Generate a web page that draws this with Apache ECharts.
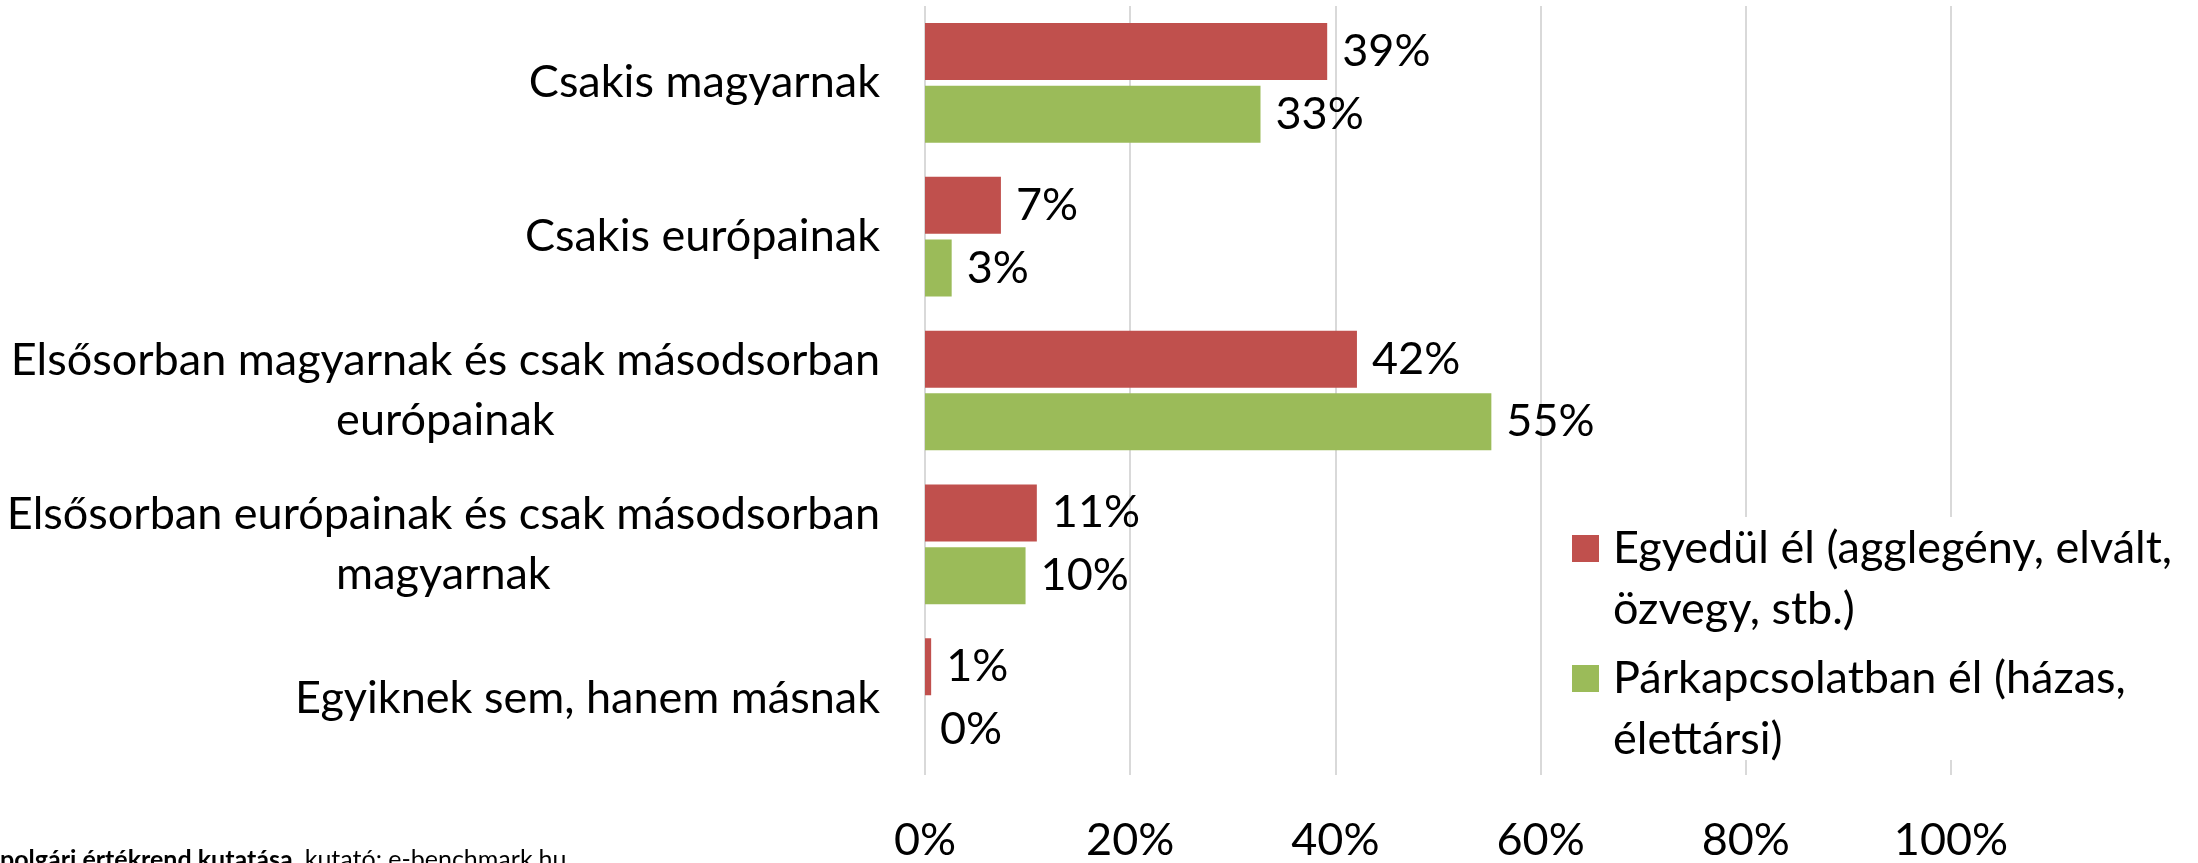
<!DOCTYPE html>
<html>
<head>
<meta charset="utf-8">
<script src="https://cdn.jsdelivr.net/npm/echarts@6/dist/echarts.min.js"></script>
<style>
  html, body { margin: 0; padding: 0; background: #fff; }
  #chart { width: 2198px; height: 863px; }
</style>
</head>
<body>
<div id="chart"></div>
<script>
// categories, top to bottom
const categories = [
  'Csakis magyarnak',
  'Csakis európainak',
  'Elsősorban magyarnak és csak másodsorban\neurópainak',
  'Elsősorban európainak és csak másodsorban\nmagyarnak',
  'Egyiknek sem, hanem másnak'
];
const seriesNames = [
  'Egyedül él (agglegény, elvált, özvegy, stb.)',
  'Párkapcsolatban él (házas, élettársi)'
];
// legend text broken into two lines like the original
const legendLines = [
  ['Egyedül él (agglegény, elvált,', 'özvegy, stb.)'],
  ['Párkapcsolatban él (házas,', 'élettársi)']
];
const single = [39.2, 7.4, 42.1, 10.9, 0.6];
const couple = [32.7, 2.6, 55.2, 9.8, 0];
const xTicks = [0, 20, 40, 60, 80, 100];

const colors = ['#C0504D', '#9BBB59'];
const FONT = 'Lato';
const FS = 45;
const LH = 60;

const chart = echarts.init(document.getElementById('chart'));

// an empty first line keeps the icon level with the first text line
function legendFor(i, top) {
  return {
    data: [seriesNames[i]],
    left: 1572,
    top: top,
    padding: 0,
    icon: 'rect',
    itemWidth: 27,
    itemHeight: 27,
    selectedMode: false,
    formatter: () => ' \n' + legendLines[i].map(s => '{t|' + s + '}').join('\n'),
    textStyle: {
      fontFamily: FONT,
      fontSize: FS,
      lineHeight: 61,
      color: '#000',
      rich: {
        t: { fontFamily: FONT, fontSize: FS, lineHeight: 61, color: '#000', padding: [0, 0, 0, 9] }
      }
    }
  };
}

chart.setOption({
  animation: false,
  grid: { left: 925, right: 247, top: 6, bottom: 79 },
  graphic: [
    {
      type: 'rect',
      z: 1,
      shape: { x: 1550, y: 517, width: 648, height: 243 },
      style: { fill: '#fff' }
    },
    {
      type: 'text',
      x: 0,
      y: 847,
      style: {
        text: '{b|polgári értékrend kutatása}, kutató: e-benchmark.hu',
        font: '25px Lato',
        fill: '#000',
        rich: { b: { fontWeight: 'bold', fontSize: 25, fontFamily: FONT } }
      }
    }
  ],
  legend: [legendFor(0, 457), legendFor(1, 587)],
  xAxis: {
    type: 'value',
    min: 0,
    max: 100,
    interval: 20,
    axisLine: { show: false },
    axisTick: { show: false },
    splitLine: { lineStyle: { color: '#D9D9D9', width: 2 } },
    axisLabel: {
      margin: 43,
      fontFamily: FONT,
      fontSize: FS,
      color: '#000',
      formatter: v => xTicks.includes(v) ? v + '%' : ''
    }
  },
  yAxis: {
    type: 'category',
    inverse: true,
    data: categories,
    axisLine: { show: false },
    axisTick: { show: false },
    axisLabel: {
      margin: 45,
      fontFamily: FONT,
      fontSize: FS,
      lineHeight: LH,
      color: '#000',
      formatter: v => v.split('\n').map(s => '{c|' + s + '}').join('\n'),
      rich: {
        c: { align: 'center', fontFamily: FONT, fontSize: FS, lineHeight: LH, color: '#000' }
      }
    }
  },
  series: [single, couple].map((d, i) => ({
    name: seriesNames[i],
    type: 'bar',
    data: d,
    barWidth: 57,
    barGap: '10%',
    itemStyle: { color: colors[i] },
    label: {
      show: true,
      position: 'right',
      distance: 15,
      fontFamily: FONT,
      fontSize: FS,
      color: '#000',
      formatter: p => Math.round(p.value) + '%'
    }
  }))
});
</script>
</body>
</html>
